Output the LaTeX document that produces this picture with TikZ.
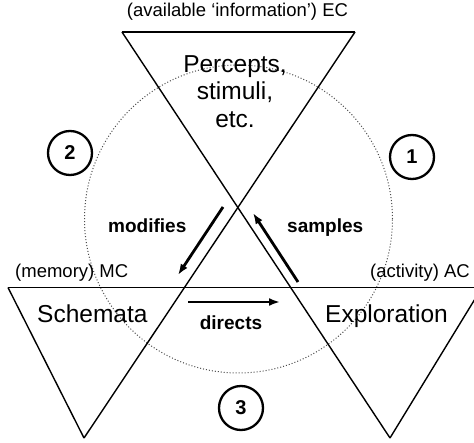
\documentclass[tikz,border=0pt]{standalone}
\usepackage{fontspec}
\setmainfont{Liberation Sans}
\usetikzlibrary{arrows.meta, positioning}

\begin{document}
\begin{tikzpicture}[
    x=1pt, y=-1pt,
    edge/.style={line width=1.4pt},
    rim/.style={line width=2.2pt},
    cyc/.style={dotted, black!70, line width=1pt},
    flow/.style={-{Latex[length=11pt, width=8pt]}, line width=2.8pt},
    lbl/.style={font=\fontsize{18.5}{20}\selectfont, inner sep=0pt},
    verb/.style={font=\fontsize{19}{21}\selectfont\bfseries, inner sep=0pt},
    big/.style={font=\fontsize{24.5}{27.5}\selectfont, inner sep=0pt, align=center},
    num/.style={circle, draw, line width=2.3pt, minimum size=44pt, inner sep=0pt, font=\fontsize{20}{22}\selectfont\bfseries},
  ]
    \useasboundingbox (0,0) rectangle (474,443);

    % Cycle
    \coordinate (hub) at (238.5,219);
    \draw[cyc] (hub) circle[radius=154pt];

    % Corners of the three triangles
    \coordinate (ecL) at (122,32);
    \coordinate (ecR) at (355,32);
    \coordinate (mcL) at (8,287.5);
    \coordinate (acR) at (482,287.5);
    \coordinate (mcTip) at (84,438);
    \coordinate (acTip) at (390,438);

    \draw[rim] (ecL) -- (ecR);
    \draw[edge] (ecL) -- (acTip);
    \draw[edge] (ecR) -- (mcTip);
    \draw[edge] (mcL) -- (acR);
    \draw[edge] (mcL) -- (mcTip);
    \draw[edge] (acR) -- (acTip);

    % Labels of the triangles
    \node[lbl, anchor=base] (ec) at (237.5,17) {(available ‘information’) EC};
    \node[lbl, anchor=base west] (mc) at (15,278) {(memory) MC};
    \node[lbl, anchor=base east] (ac) at (470,278) {(activity) AC};
    \node[big, anchor=north] (percept) at (235,55) {Percepts,\\stimuli,\\etc.};
    \node[big, anchor=base west] (schema) at (37,323) {Schemata};
    \node[big, anchor=base west] (explore) at (325,323) {Exploration};

    % Arrows
    \coordinate (modA) at (223,207);
    \coordinate (modB) at (178,275);
    \coordinate (samA) at (298,282);
    \coordinate (samB) at (253,213);
    \coordinate (dirA) at (188,302);
    \coordinate (dirB) at (280,302);
    \draw[flow] (modA) -- (modB);
    \draw[flow] (samA) -- (samB);
    \draw[flow] (dirA) -- (dirB);
    \node[verb, anchor=base west] (mod) at (108,233) {modifies};
    \node[verb, anchor=base west] (sam) at (287,233) {samples};
    \node[verb, anchor=base] (dir) at (231,330) {directs};

    % Numbers
    \node[num] (n1) at (412,157) {1};
    \node[num] (n2) at (70,153) {2};
    \node[num] (n3) at (241,408) {3};
\end{tikzpicture}
\end{document}
